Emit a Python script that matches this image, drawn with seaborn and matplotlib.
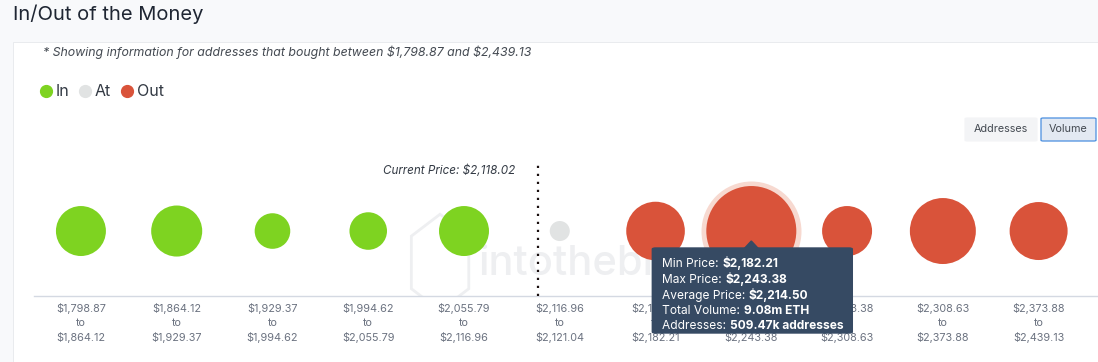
import matplotlib
matplotlib.use("Agg")
import matplotlib.pyplot as plt
import seaborn as sns
import numpy as np
import pandas as pd
from matplotlib.patches import Rectangle, FancyBboxPatch, Polygon
from matplotlib.text import Annotation

# ---------------- data ----------------
bin_low = ["$1,798.87", "$1,864.12", "$1,929.37", "$1,994.62", "$2,055.79", "$2,116.96",
           "$2,121.04", "$2,182.21", "$2,243.38", "$2,308.63", "$2,373.88"]
bin_high = ["$1,864.12", "$1,929.37", "$1,994.62", "$2,055.79", "$2,116.96", "$2,121.04",
            "$2,182.21", "$2,243.38", "$2,308.63", "$2,373.88", "$2,439.13"]
status = ["In", "In", "In", "In", "In", "At", "Out", "Out", "Out", "Out", "Out"]
volume_m_eth = [2.80, 2.92, 1.42, 1.58, 2.80, 0.45, 3.85, 9.08, 2.80, 4.88, 3.77]
highlight_bin = 7
tooltip_labels = ["Min Price: ", "Max Price: ", "Average Price: ", "Total Volume: ", "Addresses: "]
tooltip_values = ["$2,182.21", "$2,243.38", "$2,214.50", "9.08m ETH", "509.47k addresses"]
current_price_label = "Current Price: $2,118.02"
title = "In/Out of the Money"
subtitle = "* Showing information for addresses that bought between $1,798.87 and $2,439.13"
legend_items = ["In", "At", "Out"]
buttons = ["Addresses", "Volume"]

# ---------------- style ----------------
sns.set_theme(style="white")
plt.rcParams['font.family'] = ['Inter', 'DejaVu Sans']
plt.rcParams['text.parse_math'] = False

colors = {"In": "#7ed321", "At": "#e1e3e3", "Out": "#d9533a"}
W, H = 1098, 362
DPI = 100
fig = plt.figure(figsize=(W / DPI, H / DPI), dpi=DPI)
fig.patch.set_facecolor("#f8f9fb")

def fx(x):
    return x / W

def fy(y):
    return 1 - y / H

# white card
fig.patches.append(Rectangle((fx(13), 0), 1, fy(42), transform=fig.transFigure,
                             facecolor="white", edgecolor="#e6e8ec", lw=0.6, zorder=-5))

fig.text(fx(13), fy(14), title, fontsize=14.5, color="#1f2633", va="center", ha="left")
fig.text(fx(43), fy(52), subtitle, fontsize=8.9, style="italic", color="#444a52",
         va="center", ha="left")

# legend
lx = [46, 85, 127]
for i, name in enumerate(legend_items):
    fig.lines.append(plt.Line2D([fx(lx[i])], [fy(91)], marker="o", markersize=8.5,
                                color=colors[name], transform=fig.transFigure, lw=0))
    fig.text(fx(lx[i] + 10), fy(91), name, fontsize=11.5, color="#333a44",
             va="center", ha="left")

# buttons
fig.patches.append(FancyBboxPatch((fx(965), fy(141)), fx(72), 23 / H,
                                  boxstyle="round,pad=0,rounding_size=0.002",
                                  transform=fig.transFigure, facecolor="#f3f4f6",
                                  edgecolor="#f3f4f6", lw=0.8))
fig.text(fx(1001), fy(129.5), buttons[0], fontsize=7.8, color="#444a52", ha="center", va="center")
fig.patches.append(FancyBboxPatch((fx(1041), fy(141)), fx(55), 23 / H,
                                  boxstyle="round,pad=0,rounding_size=0.002",
                                  transform=fig.transFigure, facecolor="#e3e9f2",
                                  edgecolor="#4a8fe0", lw=0.9))
fig.text(fx(1068.5), fy(129.5), buttons[1], fontsize=7.8, color="#444a52", ha="center", va="center")

# ---------------- main axes ----------------
ax = fig.add_axes([fx(34), fy(296), fx(1098 - 34), (296 - 150) / H])
ax.set_facecolor("none")
n = len(status)
df = pd.DataFrame({"pos": np.arange(n), "y": 0.445, "status": status, "volume": volume_m_eth})

ax.set_xlim(-0.49, 10.62)
ax.set_ylim(0, 1)

vmax = max(volume_m_eth)
r_max_px = 45
smax = (2 * r_max_px * 72 / DPI) ** 2

# highlight halo
halo_s = (2 * 50 * 72 / DPI) ** 2
ax.scatter(df.pos[highlight_bin], df.y[highlight_bin], s=halo_s, color="#f7d9d0",
           linewidths=0, zorder=2)

sns.scatterplot(data=df, x="pos", y="y", hue="status", palette=colors,
                size="volume", sizes=(0, smax), size_norm=(0, vmax),
                legend=False, linewidth=0, ax=ax, zorder=3)

# watermark
ax.text(4.15, 0.22, "intotheblock", fontsize=30, color="#eeeff1", ha="left",
        va="center", zorder=1, fontweight="medium")
hx, hy = 3.75, 0.23
hexagon = Polygon([[hx - 0.3, hy + 0.18], [hx, hy + 0.33], [hx + 0.3, hy + 0.18],
                   [hx + 0.3, hy - 0.18], [hx, hy - 0.33], [hx - 0.3, hy - 0.18]],
                  closed=True, fill=False, edgecolor="#eeeff1", lw=2, zorder=1)
ax.add_patch(hexagon)

# current price line
cp_x = 4.77
ax.plot([cp_x, cp_x], [0.0, 0.9], color="#1a1010", lw=1.6, linestyle=(0, (1, 2.6)), zorder=4)
ax.text(cp_x - 0.24, 0.855, current_price_label, fontsize=8.4, style="italic",
        color="#333a44", ha="right", va="center")

# axes styling
ax.set_xticks(np.arange(n))
ax.set_xticklabels([f"{lo}\nto\n{hi}" for lo, hi in zip(bin_low, bin_high)],
                   fontsize=7.8, color="#6b7280", linespacing=1.5)
ax.tick_params(axis="x", length=0, pad=5)
ax.set_yticks([])
ax.set_xlabel("")
ax.set_ylabel("")
for s in ["top", "left", "right"]:
    ax.spines[s].set_visible(False)
ax.spines["bottom"].set_color("#d4d9e2")
ax.spines["bottom"].set_linewidth(1.0)

# tooltip anchored to highlighted bubble
fig.canvas.draw()
cx, cy = ax.transData.transform((df.pos[highlight_bin], df.y[highlight_bin]))
cx_px = cx
box_left, box_right, box_top, box_bot = cx_px - 99, cx_px + 101, 248, 333
tip_color = "#364a63"
fig.patches.append(FancyBboxPatch((fx(box_left), fy(box_bot)), fx(box_right - box_left),
                                  (box_bot - box_top) / H,
                                  boxstyle="round,pad=0,rounding_size=0.003",
                                  transform=fig.transFigure, facecolor=tip_color,
                                  edgecolor=tip_color, zorder=10))
fig.patches.append(Polygon([[fx(cx_px - 7), fy(box_top + 0.5)], [fx(cx_px), fy(box_top - 7)],
                            [fx(cx_px + 7), fy(box_top + 0.5)]], closed=True,
                           transform=fig.transFigure, facecolor=tip_color,
                           edgecolor=tip_color, zorder=10))
line_y = [267, 283, 299, 314, 329]
for lab, val, yy in zip(tooltip_labels, tooltip_values, line_y):
    t = fig.text(fx(box_left + 10), fy(yy), lab, fontsize=8.6, color="white",
                 ha="left", va="baseline", zorder=11)
    a = Annotation(val, xy=(1, 0), xycoords=t, xytext=(0, 0), textcoords="offset points",
                   fontsize=8.6, color="white", fontweight="bold", ha="left", va="bottom",
                   zorder=11, annotation_clip=False)
    fig.add_artist(a)

fig.savefig("out.png", dpi=DPI, facecolor=fig.get_facecolor())
